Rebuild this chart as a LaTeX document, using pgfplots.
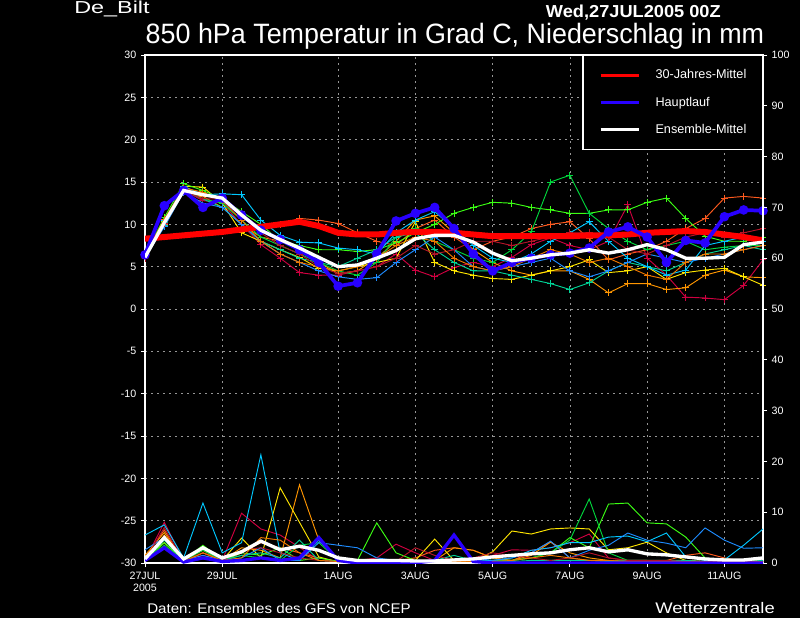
\documentclass[border=0pt]{standalone}
\usepackage{fontspec}
\setmainfont{Liberation Sans}
\usepackage{pgfplots}
\usepackage{pgfplotstable}
\pgfplotsset{compat=1.18}

\definecolor{c1}{RGB}{208,0,64}
\definecolor{c2}{RGB}{255,90,30}
\definecolor{c3}{RGB}{255,150,0}
\definecolor{c4}{RGB}{255,230,0}
\definecolor{c5}{RGB}{60,255,20}
\definecolor{c6}{RGB}{0,215,60}
\definecolor{c7}{RGB}{0,210,150}
\definecolor{c8}{RGB}{0,200,255}
\definecolor{c9}{RGB}{30,140,255}
\definecolor{c10}{RGB}{180,20,40}
\definecolor{c11}{RGB}{240,120,0}
\definecolor{mainblue}{RGB}{40,0,255}
\definecolor{climred}{RGB}{255,0,0}
\definecolor{gridgray}{RGB}{150,150,150}

% 850 hPa temperature (deg C), one row per series, 12-hourly from 27JUL 00Z
\pgfplotstableread{
name i0 i1 i2 i3 i4 i5 i6 i7 i8 i9 i10 i11 i12 i13 i14 i15 i16 i17 i18 i19 i20 i21 i22 i23 i24 i25 i26 i27 i28 i29 i30 i31 i32
d 0 0.5 1 1.5 2 2.5 3 3.5 4 4.5 5 5.5 6 6.5 7 7.5 8 8.5 9 9.5 10 10.5 11 11.5 12 12.5 13 13.5 14 14.5 15 15.5 16
clim 8.3 8.5 8.7 8.9 9.1 9.4 9.7 10.0 10.3 9.8 9.0 8.8 8.8 9.0 9.1 9.1 9.0 8.8 8.6 8.6 8.6 8.6 8.6 8.7 8.7 8.8 9.0 9.1 9.2 9.1 8.8 8.5 8.1
main 6.4 12.2 14.0 12.0 13.1 11.1 9.3 8.2 7.0 5.5 2.7 3.1 6.5 10.4 11.3 12.0 9.5 6.5 4.5 5.5 6.0 6.4 6.6 7.2 9.1 9.7 8.5 5.5 8.1 7.8 10.9 11.7 11.6
mean 6.1 10.2 14.0 13.5 13.1 11.1 9.3 8.2 7.2 6.1 5.0 5.2 6.0 6.9 8.3 8.7 8.7 7.9 6.6 5.7 6.0 6.4 6.6 7.0 6.6 7.0 7.6 7.0 6.0 6.0 6.1 7.6 7.9
m1 6.0 10.5 14.0 12.8 12.5 10.0 7.6 6.0 4.3 4.0 4.0 4.5 5.0 6.5 4.6 3.8 4.9 5.5 5.0 6.1 7.6 8.4 7.5 7.0 8.0 12.3 6.0 4.0 1.4 1.3 1.1 2.8 5.8
m2 6.0 10.0 14.2 13.5 13.0 11.0 9.5 10.0 10.7 10.5 10.1 9.0 8.0 7.5 9.5 10.5 8.5 7.0 8.0 8.5 9.5 10.0 10.3 8.3 5.8 6.5 7.0 8.0 9.5 10.7 13.1 13.3 13.1
m3 6.3 9.8 13.8 13.3 12.0 10.0 8.5 8.0 7.0 5.5 4.2 4.5 6.0 8.0 10.5 11.0 9.0 7.0 5.5 4.5 4.0 4.5 4.5 3.5 1.9 3.0 3.0 2.3 2.5 4.0 4.6 3.8 3.7
m4 6.2 10.3 14.5 14.4 12.5 9.0 8.0 7.0 6.1 4.8 4.5 5.0 5.5 6.0 10.3 5.5 4.5 4.0 3.6 3.5 4.0 4.5 5.0 5.8 4.3 4.5 5.0 3.5 4.3 4.6 4.8 3.8 2.8
m5 6.5 10.8 14.8 14.0 13.0 11.5 10.0 8.0 7.5 7.0 7.0 6.8 7.0 7.8 9.0 10.0 11.3 12.0 12.6 12.5 12.0 11.7 11.3 11.3 11.7 11.7 12.6 13.1 10.7 8.6 8.0 8.0 8.5
m6 6.3 10.2 14.0 13.0 12.5 10.5 8.5 7.5 6.5 5.5 4.5 4.0 5.5 8.5 9.5 8.0 7.0 6.0 5.5 7.0 9.1 15.0 15.8 11.3 9.5 8.0 7.0 7.5 8.0 7.0 7.3 7.5 7.5
m7 6.0 9.9 14.0 13.0 12.0 10.0 8.0 7.0 6.0 5.5 5.0 6.0 7.0 8.5 9.0 7.0 5.5 4.5 4.5 4.0 3.5 3.0 2.3 3.1 4.5 5.5 5.0 4.5 5.5 6.5 7.0 7.5 7.0
m8 6.2 10.4 14.5 13.5 13.6 13.5 10.5 8.7 7.9 7.8 7.2 7.0 6.5 9.0 10.5 11.5 9.5 7.5 6.0 5.5 6.5 8.0 9.0 10.3 8.0 6.0 5.0 4.0 4.6 7.5 8.0 8.5 8.0
m9 6.1 9.7 13.8 12.5 12.0 10.0 8.0 6.5 5.5 4.5 3.8 3.5 3.7 5.5 7.0 8.5 7.0 5.0 4.5 5.0 5.5 6.0 4.5 3.8 4.5 5.5 6.5 6.0 5.5 6.0 6.5 7.0 7.5
m10 6.0 10.1 14.0 13.0 13.0 11.0 9.0 7.5 6.5 5.0 4.2 4.5 5.0 6.0 7.5 6.5 7.0 8.0 8.0 7.5 8.0 8.5 9.0 9.0 8.5 7.0 6.5 7.5 8.5 9.0 8.5 9.0 9.5
m11 6.4 10.6 14.3 13.8 12.8 10.5 8.0 6.5 5.5 5.0 4.5 5.0 6.0 7.5 8.5 8.0 6.0 5.0 4.5 5.0 6.0 7.0 6.5 5.5 6.0 5.0 4.0 3.5 5.5 6.5 6.5 7.0 7.5
}\tempsraw
\pgfplotstabletranspose[colnames from=name]{\temps}{\tempsraw}

% precipitation (mm)
\pgfplotstableread{
name i0 i1 i2 i3 i4 i5 i6 i7 i8 i9 i10 i11 i12 i13 i14 i15 i16 i17 i18 i19 i20 i21 i22 i23 i24 i25 i26 i27 i28 i29 i30 i31 i32
d 0 0.5 1 1.5 2 2.5 3 3.5 4 4.5 5 5.5 6 6.5 7 7.5 8 8.5 9 9.5 10 10.5 11 11.5 12 12.5 13 13.5 14 14.5 15 15.5 16
pmain 0.5 3.0 0.2 1.0 0.3 0.5 1.0 0.5 1.0 5.0 0.5 0 0 0 0 0.5 5.5 0.3 0 0 0 0 0 0 0 0 0 0 0 0 0 0 0
pmean 0.8 5.0 0.8 3.0 1.0 2.2 4.3 2.6 3.3 2.5 1.0 0.5 0.5 0.5 0.4 0.4 0.6 0.8 1.2 1.5 1.8 2.0 2.6 3.0 2.2 2.6 1.8 1.6 1.2 0.8 0.6 0.6 1.0
p1 0.5 8.0 0.5 1.5 0.5 9.8 6.7 5.5 3.1 0.5 0.3 0.5 1.0 3.7 2.0 0.5 0.3 0.5 1.5 2.6 2.5 3.0 4.0 5.7 1.0 0.5 0.5 0.3 0.5 0.3 0.2 0.3 0.5
p2 1.0 6.5 0.3 1.0 0.3 2.0 4.0 3.0 2.0 1.0 0.3 0.3 0.3 0.5 1.0 2.5 3.0 2.5 1.0 0.5 2.0 4.2 1.0 0.5 0.3 0.3 0.3 0.5 1.5 2.0 1.0 0.3 0.3
p3 1.5 6.0 0.3 2.0 0.5 3.0 2.5 1.0 15.4 4.5 0.5 0.2 0.2 0.2 0.3 0.5 3.0 2.5 1.0 0.5 1.5 4.1 2.0 1.0 0.5 0.3 0.3 0.2 0.2 0.3 0.5 0.3 0.2
p4 1.0 4.0 0.5 2.5 0.5 4.9 1.0 14.8 8.0 1.2 0.2 0.2 0.2 0.2 0.5 4.7 0.5 0.3 2.2 6.3 5.7 6.7 6.9 6.7 2.6 3.0 4.1 2.0 0.5 0.3 0.8 0.3 0.5
p5 0.5 4.0 0.5 3.5 0.5 2.0 1.5 3.0 0.5 1.0 0.3 0.5 7.9 2.0 0.5 0.3 0.3 0.5 0.5 0.5 1.0 2.0 5.0 3.0 11.6 11.8 7.9 7.7 5.1 1.0 0.3 0.2 0.3
p6 0.5 3.5 0.5 2.5 0.5 1.5 1.0 0.5 3.5 4.0 0.5 0.3 0.5 0.5 0.5 0.3 0.3 0.5 0.5 0.5 1.0 2.0 4.5 12.6 2.0 0.5 0.5 0.3 0.3 0.3 0.3 0.3 0.3
p7 0.5 4.5 0.5 3.0 0.5 1.5 2.0 1.0 4.5 0.5 0.3 0.3 0.5 0.5 0.3 0.5 1.5 0.5 0.3 0.3 0.5 0.5 0.5 0.5 0.3 0.5 0.5 0.5 0.5 0.3 0.3 0.3 0.5
p8 5.5 7.5 1.0 11.8 2.0 4.0 21.3 2.0 0.5 4.5 0.5 0.3 0.2 0.2 0.2 0.3 0.5 0.3 0.5 1.0 2.5 3.0 4.0 4.0 5.1 5.3 4.2 5.9 1.2 0.5 0.6 3.5 6.7
p9 2.6 5.0 0.5 1.5 0.5 1.0 3.0 0.5 0.5 4.0 3.5 3.0 1.0 0.5 0.3 0.3 0.5 1.0 0.5 1.0 2.0 4.3 1.0 2.5 3.5 5.9 4.5 3.9 3.0 6.9 4.5 2.9 3.0
p10 0.5 7.0 0.3 2.0 0.5 2.5 3.0 2.0 1.0 0.5 0.3 0.3 0.5 0.3 3.0 1.5 0.5 1.0 2.0 1.5 1.0 0.5 1.0 2.0 1.0 0.5 0.5 0.5 0.3 0.3 0.5 0.3 0.3
p11 0.5 5.5 0.3 2.0 0.5 1.0 5.0 4.5 2.0 0.5 0.3 0.3 0.3 0.3 0.5 0.5 0.3 0.3 0.3 0.5 1.0 1.5 1.0 0.5 0.5 0.3 0.3 0.3 0.3 0.3 0.3 0.3 0.3
}\precipraw
\pgfplotstabletranspose[colnames from=name]{\precip}{\precipraw}

\begin{document}
\begin{tikzpicture}
\useasboundingbox (0,0) rectangle (600pt,463.5pt);
\fill[black] (0,0) rectangle (600pt,463.5pt);

\begin{axis}[
  at={(108.75pt,41.25pt)}, anchor=south west,
  scale only axis, width=463.5pt, height=381pt,
  clip mode=individual,
  xmin=0, xmax=16, ymin=-30, ymax=30,
  axis line style={white, line width=1.3pt},
  tick pos=left,
  ytick={-30,-25,...,30},
  xtick={0,2,5,7,9,11,13,15},
  xticklabels={{27JUL\\2005},29JUL,1AUG,3AUG,5AUG,7AUG,9AUG,11AUG},
  xticklabel style={align=center, text=white, font=\fontsize{8}{9}\selectfont},
  yticklabel style={text=white, font=\fontsize{8}{9}\selectfont},
  /pgf/number format/assume math mode=true,
  tick align=outside, major tick length=3pt,
  tick style={white, line width=0.6pt},
  grid=major,
  major grid style={gridgray, dash pattern=on 1.5pt off 3pt, line width=0.5pt},
  legend style={at={(1,1)}, anchor=north east, draw=white, line width=1pt,
    fill=black, text=white, font=\fontsize{9.5}{10}\selectfont,
    inner xsep=12pt, inner ysep=10.5pt, row sep=12pt,
    nodes={inner sep=0pt}},
  legend cell align=left,
  /tikz/every odd column/.append style={column sep=11pt},
  legend image code/.code={\draw[#1, line width=2.4pt] (0pt,0pt) -- (29pt,0pt);},
]
\pgfplotsinvokeforeach{1,...,11}{
  \addplot[c#1, line width=0.7pt, mark=+, mark size=2.6pt, forget plot] table[x=d,y=m#1]{\temps};
}
\addplot[climred, line width=4.5pt] table[x=d,y=clim]{\temps};
\addlegendentry{30-Jahres-Mittel}
\addplot[mainblue, line width=2.8pt, mark=*, mark size=2.1pt, mark options={fill=mainblue, draw=mainblue}] table[x=d,y=main]{\temps};
\addlegendentry{Hauptlauf}
\addplot[white, line width=2.5pt] table[x=d,y=mean]{\temps};
\addlegendentry{Ensemble-Mittel}
\end{axis}

\begin{axis}[
  at={(108.75pt,41.25pt)}, anchor=south west,
  scale only axis, width=463.5pt, height=381pt,
  xmin=0, xmax=16, ymin=0, ymax=100,
  axis x line=none, axis y line*=right,
  axis line style={white, line width=1.3pt},
  ytick={0,10,...,100},
  yticklabel style={text=white, font=\fontsize{8}{9}\selectfont},
  /pgf/number format/assume math mode=true,
  tick align=outside, major tick length=3pt,
  tick style={white, line width=0.6pt},
]
\pgfplotsinvokeforeach{1,...,11}{
  \addplot[c#1, line width=0.7pt, forget plot] table[x=d,y=p#1]{\precip};
}
\addplot[mainblue, line width=2.5pt, forget plot] table[x=d,y=pmain]{\precip};
\addplot[white, line width=2.5pt, forget plot] table[x=d,y=pmean]{\precip};
\end{axis}

\node[anchor=base west, inner sep=0pt, text=white, font=\fontsize{13}{15}\selectfont] at (55.5pt,453.5pt) {\scalebox{1.35}[1]{De\_Bilt}};
\node[anchor=base, inner sep=0pt, text=white, font=\bfseries\fontsize{13}{15}\selectfont] at (475pt,450pt) {\scalebox{1.05}[1]{Wed,27JUL2005 00Z}};
\node[anchor=base, inner sep=0pt, text=white, font=\fontsize{21}{24}\selectfont] at (341.25pt,431pt) {\scalebox{0.96}[1]{850 hPa Temperatur in Grad C, Niederschlag in mm}};
\node[anchor=base west, inner sep=0pt, text=white, font=\fontsize{10.5}{12}\selectfont] at (110.25pt,3.75pt) {\scalebox{1.08}[1]{Daten: Ensembles des GFS von NCEP}};
\node[anchor=base east, inner sep=0pt, text=white, font=\fontsize{11.5}{13}\selectfont] at (581.25pt,3.5pt) {\scalebox{1.2}[1]{Wetterzentrale}};
\end{tikzpicture}
\end{document}
